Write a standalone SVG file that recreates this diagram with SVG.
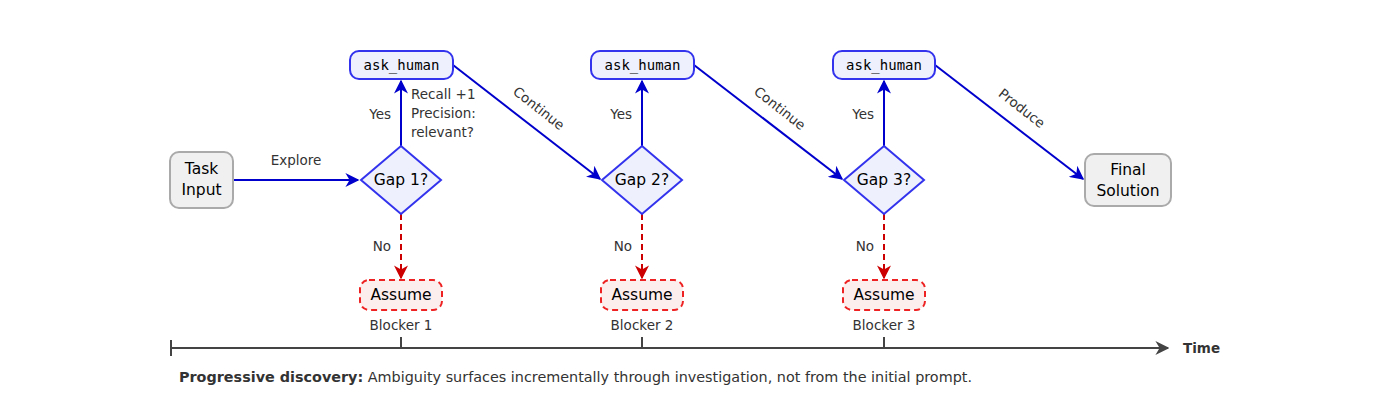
<svg xmlns="http://www.w3.org/2000/svg" width="1400" height="410" viewBox="0 0 1400 410">
<style>
text{font-family:"DejaVu Sans","Liberation Sans",sans-serif;}
.n{font-size:15.5px;fill:#000;text-anchor:middle}
.l{font-size:13.5px;fill:#333}
.m{font-family:"DejaVu Sans Mono","Liberation Mono",monospace;font-size:14px;text-anchor:middle}
.gray{fill:#f0f0f0;stroke:#aaa;stroke-width:2}
.blue{fill:#eef0fd;stroke:#3333ee;stroke-width:2}
.red{fill:#fdeeee;stroke:#ee2222;stroke-width:2;stroke-dasharray:6,4}
.bl{stroke:#0000cc;stroke-width:2;fill:none}
.rd{stroke:#cc0000;stroke-width:2;fill:none;stroke-dasharray:6,4}
.ax{stroke:#444;stroke-width:2;fill:none}
</style>
<defs>
<marker id="ar" viewBox="0 0 10 10" refX="9" refY="5" markerWidth="14" markerHeight="14" orient="auto" markerUnits="userSpaceOnUse"><path d="M0,0 L10,5 L0,10 L3,5 Z" fill="#cc0000"/></marker>
<marker id="abb" viewBox="0 0 10 10" refX="9" refY="5" markerWidth="14" markerHeight="14" orient="auto" markerUnits="userSpaceOnUse"><path d="M0,0 L10,5 L0,10 L3,5 Z" fill="#0000cc"/></marker>
<marker id="ag" viewBox="0 0 10 10" refX="9" refY="5" markerWidth="14" markerHeight="14" orient="auto" markerUnits="userSpaceOnUse"><path d="M0,0 L10,5 L0,10 L3,5 Z" fill="#444"/></marker>
</defs>
<g id="connectors">
<path class="bl" d="M233,180 H358" marker-end="url(#abb)"/>
<path class="bl" d="M401,146 V81" marker-end="url(#abb)"/>
<path class="bl" d="M453,65 L600,179" marker-end="url(#abb)"/>
<path class="bl" d="M642,146 V81" marker-end="url(#abb)"/>
<path class="bl" d="M694,65 L842,179" marker-end="url(#abb)"/>
<path class="bl" d="M884,146 V81" marker-end="url(#abb)"/>
<path class="bl" d="M935,65 L1083,179" marker-end="url(#abb)"/>
<path class="rd" d="M401,214 V278" marker-end="url(#ar)"/>
<path class="rd" d="M642,214 V278" marker-end="url(#ar)"/>
<path class="rd" d="M884,214 V278" marker-end="url(#ar)"/>
<text class="l" x="296" y="165" text-anchor="middle">Explore</text>
<text class="l" x="391" y="119" text-anchor="end">Yes</text>
<text class="l" x="632" y="119" text-anchor="end">Yes</text>
<text class="l" x="874" y="119" text-anchor="end">Yes</text>
<text class="l" x="411" y="99">Recall +1</text>
<text class="l" x="411" y="118">Precision:</text>
<text class="l" x="411" y="137">relevant?</text>
<text class="l" transform="translate(536,112) rotate(38)" text-anchor="middle">Continue</text>
<text class="l" transform="translate(777,112) rotate(38)" text-anchor="middle">Continue</text>
<text class="l" transform="translate(1019,112) rotate(38)" text-anchor="middle">Produce</text>
<text class="l" x="391" y="251" text-anchor="end">No</text>
<text class="l" x="632" y="251" text-anchor="end">No</text>
<text class="l" x="874" y="251" text-anchor="end">No</text>
</g>
<g id="task"><rect class="gray" x="170" y="152" width="63" height="56" rx="9"/><text class="n" x="201.5" y="174">Task</text><text class="n" x="201.5" y="195">Input</text></g>
<g id="gap1"><path class="blue" d="M401,146 L441,180 L401,214 L361,180 Z"/><text class="n" x="401" y="185">Gap 1?</text></g>
<g id="gap2"><path class="blue" d="M642,146 L682,180 L642,214 L602,180 Z"/><text class="n" x="642" y="185">Gap 2?</text></g>
<g id="gap3"><path class="blue" d="M884,146 L924,180 L884,214 L844,180 Z"/><text class="n" x="884" y="185">Gap 3?</text></g>
<g id="ask1"><rect class="blue" x="350" y="51" width="103" height="28" rx="9"/><text class="m" x="401.5" y="70">ask_human</text></g>
<g id="ask2"><rect class="blue" x="591" y="51" width="103" height="28" rx="9"/><text class="m" x="642.5" y="70">ask_human</text></g>
<g id="ask3"><rect class="blue" x="833" y="51" width="102" height="28" rx="9"/><text class="m" x="884" y="70">ask_human</text></g>
<g id="final"><rect class="gray" x="1085" y="154" width="86" height="52" rx="9"/><text class="n" x="1128" y="175">Final</text><text class="n" x="1128" y="196">Solution</text></g>
<g id="assume1"><rect class="red" x="360" y="280" width="82" height="30" rx="9"/><text class="n" x="401" y="300">Assume</text></g>
<g id="assume2"><rect class="red" x="601" y="280" width="82" height="30" rx="9"/><text class="n" x="642" y="300">Assume</text></g>
<g id="assume3"><rect class="red" x="843" y="280" width="82" height="30" rx="9"/><text class="n" x="884" y="300">Assume</text></g>
<g id="timeline">
<path class="ax" d="M171,348 H1168" marker-end="url(#ag)"/>
<path class="ax" d="M171,340 V356 M401,337 V348 M642,337 V348 M884,337 V348"/>
<text class="l" x="401" y="330" text-anchor="middle">Blocker 1</text>
<text class="l" x="642" y="330" text-anchor="middle">Blocker 2</text>
<text class="l" x="884" y="330" text-anchor="middle">Blocker 3</text>
<text class="l" x="1183" y="353" font-weight="bold">Time</text>
<text class="l" x="179" y="382" textLength="793" lengthAdjust="spacingAndGlyphs"><tspan font-weight="bold">Progressive discovery:</tspan> Ambiguity surfaces incrementally through investigation, not from the initial prompt.</text>
</g>
</svg>
